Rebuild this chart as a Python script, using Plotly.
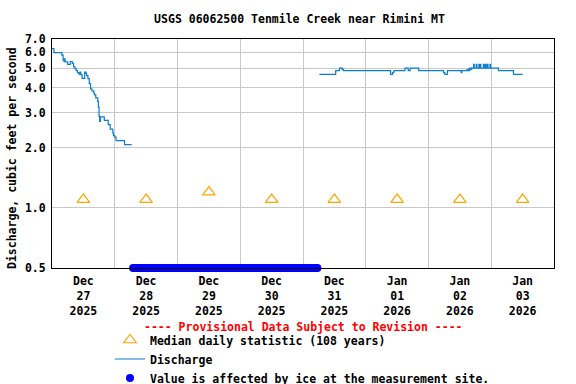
import plotly.graph_objects as go
import pandas as pd

# ---------------- data ----------------
median_days = ["2025-12-27 12:00", "2025-12-28 12:00", "2025-12-29 12:00", "2025-12-30 12:00",
               "2025-12-31 12:00", "2026-01-01 12:00", "2026-01-02 12:00", "2026-01-03 12:00"]
median_vals = [1.1, 1.1, 1.2, 1.1, 1.1, 1.1, 1.1, 1.1]

dis1_times = ["2025-12-27 00:00", "2025-12-27 00:45", "2025-12-27 03:45", "2025-12-27 04:15",
              "2025-12-27 04:30", "2025-12-27 04:45", "2025-12-27 05:00", "2025-12-27 06:00",
              "2025-12-27 07:00", "2025-12-27 07:45", "2025-12-27 08:15", "2025-12-27 08:45",
              "2025-12-27 09:15", "2025-12-27 09:45", "2025-12-27 10:15", "2025-12-27 10:45",
              "2025-12-27 11:00", "2025-12-27 11:30", "2025-12-27 12:30", "2025-12-27 13:00",
              "2025-12-27 13:15", "2025-12-27 13:45", "2025-12-27 14:15", "2025-12-27 14:30",
              "2025-12-27 14:45", "2025-12-27 15:15", "2025-12-27 16:00", "2025-12-27 16:15",
              "2025-12-27 16:45", "2025-12-27 17:30", "2025-12-27 17:45", "2025-12-27 18:00",
              "2025-12-27 18:15", "2025-12-27 18:30", "2025-12-27 20:00", "2025-12-27 21:30",
              "2025-12-27 22:15", "2025-12-27 23:15", "2025-12-27 23:30", "2025-12-28 00:00",
              "2025-12-28 00:30", "2025-12-28 03:45", "2025-12-28 06:30"]
dis1_vals = [6.27, 5.98, 5.81, 5.48, 5.42, 5.57, 5.38, 5.22, 5.40, 5.28, 5.08, 4.97,
             4.86, 4.75, 4.67, 4.78, 4.64, 4.45, 4.78, 4.71, 4.59, 4.43, 4.20, 4.17,
             3.94, 3.85, 3.75, 3.68, 3.55, 3.41, 3.18, 2.87, 2.71, 2.85, 2.74, 2.61,
             2.48, 2.37, 2.30, 2.26, 2.17, 2.07, 2.07]

dis2_times = ["2025-12-31 06:15", "2025-12-31 12:30", "2025-12-31 14:00", "2025-12-31 15:00",
              "2025-12-31 15:30", "2026-01-01 09:30", "2026-01-01 10:15", "2026-01-01 10:45",
              "2026-01-01 15:00", "2026-01-01 16:15", "2026-01-01 17:00", "2026-01-01 20:15",
              "2026-01-02 05:45", "2026-01-02 06:15", "2026-01-02 07:15", "2026-01-02 12:30",
              "2026-01-02 12:45", "2026-01-02 14:45", "2026-01-02 15:15", "2026-01-02 15:45",
              "2026-01-02 16:15", "2026-01-02 16:30", "2026-01-02 17:15", "2026-01-02 17:30",
              "2026-01-02 18:15", "2026-01-02 18:30", "2026-01-02 19:15", "2026-01-02 19:30",
              "2026-01-02 19:45", "2026-01-02 20:00", "2026-01-02 21:00", "2026-01-02 21:15",
              "2026-01-02 21:45", "2026-01-02 22:00", "2026-01-02 22:30", "2026-01-02 22:45",
              "2026-01-02 23:30", "2026-01-02 23:45", "2026-01-03 02:45", "2026-01-03 08:30",
              "2026-01-03 12:00"]
dis2_vals = [4.66, 4.86, 5.0, 4.93, 4.86, 4.66, 4.75, 4.86, 5.0, 4.86, 5.0, 4.86,
             4.75, 4.66, 4.86, 4.75, 4.86, 4.93, 4.86, 5.0, 4.93, 5.0, 5.22, 5.0,
             5.22, 5.0, 5.22, 5.0, 5.22, 5.0, 5.22, 5.0, 5.22, 5.0, 5.22, 5.0,
             5.22, 5.0, 4.86, 4.66, 4.66]

ice_start = "2025-12-28 07:00"
ice_end = "2025-12-31 05:45"
ice_value = 0.5

y_tickvals = [0.5, 1.0, 2.0, 3.0, 4.0, 5.0, 6.0, 7.0]
y_ticktext = ["0.5", "1.0", "2.0", "3.0", "4.0", "5.0", "6.0", "7.0"]

title_text = "USGS 06062500 Tenmile Creek near Rimini MT"
ytitle = "Discharge, cubic feet per second"
provisional = "---- Provisional Data Subject to Revision ----"

# ---------------- figure ----------------
FONT = "DejaVu Sans Mono"
FS = 11.5

ice_times = pd.date_range(ice_start, ice_end, freq="30min")
dis_times = dis1_times + [None] + dis2_times
dis_vals = dis1_vals + [None] + dis2_vals

fig = go.Figure()
fig.add_trace(go.Scatter(
    x=median_days, y=median_vals, mode="markers",
    name="Median daily statistic (108 years)",
    marker=dict(symbol="triangle-up-open", size=11, color="#ffa500", line=dict(width=1.2, color="#ffa500")),
))
fig.add_trace(go.Scatter(
    x=dis_times, y=dis_vals, mode="lines", name="Discharge",
    line=dict(color="#0a7dd2", width=1.2, shape="hv"), connectgaps=False,
))
fig.add_trace(go.Scatter(
    x=ice_times, y=[ice_value] * len(ice_times), mode="markers",
    name="Value is affected by ice at the measurement site.",
    marker=dict(symbol="circle", size=8, color="#0000ff"), cliponaxis=False,
))

fig.update_layout(
    width=576, height=384,
    margin=dict(l=52, r=22, t=39, b=116, pad=0, autoexpand=False),
    paper_bgcolor="white", plot_bgcolor="white",
    font=dict(family=FONT, size=FS, color="black", weight="bold"),
    title=dict(text=title_text, x=0.52, xanchor="center", y=1 - 19 / 384, yanchor="middle",
               font=dict(family=FONT, size=FS, color="black", weight="bold")),
    showlegend=True,
    legend=dict(xref="container", yref="container", x=110 / 576, xanchor="left",
                y=1 - 325.5 / 384, yanchor="top", orientation="v",
                bgcolor="rgba(0,0,0,0)", borderwidth=0, tracegroupgap=0,
                font=dict(family=FONT, size=FS, color="black", weight="bold")),
    annotations=[
        dict(text=provisional, xref="paper", yref="paper", x=0.5, y=(268 - 327) / 229,
             xanchor="center", yanchor="middle", showarrow=False,
             font=dict(family=FONT, size=FS, color="#ff0000", weight="bold")),
        dict(text=ytitle, xref="paper", yref="paper", x=(12 - 52) / 502, y=(268 - 158) / 229,
             xanchor="center", yanchor="middle", textangle=-90, showarrow=False,
             font=dict(family=FONT, size=FS, color="black", weight="bold")),
    ],
)

fig.update_xaxes(
    type="date", range=["2025-12-27 00:00", "2026-01-04 00:00"],
    tick0="2025-12-27", dtick=86400000, ticklabelmode="period",
    tickformat="%b<br>%d<br>%Y", ticks="", ticklabelstandoff=2,
    showgrid=True, gridcolor="#c8c8c8", gridwidth=1,
    showline=True, linecolor="black", linewidth=1, mirror=True,
    zeroline=False, layer="above traces",
)
fig.update_yaxes(
    type="log", range=[0.69897 - 1, 0.845098],
    tickvals=y_tickvals, ticktext=y_ticktext, ticks="", ticklabelstandoff=3,
    showgrid=True, gridcolor="#c8c8c8", gridwidth=1,
    showline=True, linecolor="black", linewidth=1, mirror=True,
    zeroline=False,
)

fig.write_html("out.html", config={"displayModeBar": False},
               post_script="document.body.style.margin='0';")
